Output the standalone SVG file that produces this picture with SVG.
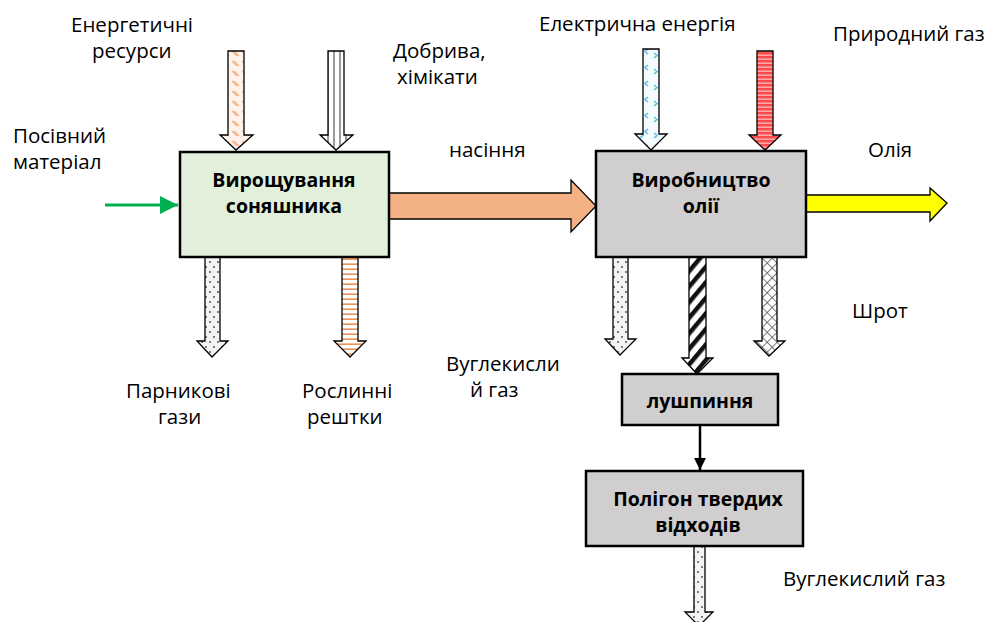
<svg xmlns="http://www.w3.org/2000/svg" width="988" height="622" viewBox="0 0 988 622">
<style>
.t{font-family:"Open Sans","Noto Sans",sans-serif;font-size:20.5px;fill:#000}
.b{font-family:"Open Sans","Noto Sans",sans-serif;font-size:19.5px;font-weight:bold;fill:#000;text-anchor:middle}
.box{stroke:#000;stroke-width:2.5}
.ar{stroke:#000;stroke-width:1.3;stroke-linejoin:miter}
</style>
<defs>
<pattern id="pEnergy" width="10" height="10" patternUnits="userSpaceOnUse">
<rect width="10" height="10" fill="#fdf3ec"/>
<path d="M2 1 L7 6 M4 1 L9 6" stroke="#f4b183" stroke-width="1.2"/>
</pattern>
<pattern id="pFert" width="6" height="6" patternUnits="userSpaceOnUse">
<rect width="6" height="6" fill="#fff"/>
<rect x="3" width="2" height="6" fill="#9a9a9a"/>
</pattern>
<pattern id="pElec" width="14" height="16" patternUnits="userSpaceOnUse">
<rect width="14" height="16" fill="#f6fbfd"/>
<path d="M4 1 L1 3.5 L4 6 M10 5 L13 7.5 L10 10" stroke="#5bc4e0" stroke-width="1.6" fill="none"/>
</pattern>
<pattern id="pGas" width="4" height="4" patternUnits="userSpaceOnUse">
<rect width="4" height="4" fill="#ff4b4b"/>
<rect y="2.6" width="4" height="1.1" fill="#ffd0d0"/>
</pattern>
<pattern id="pDots" width="8" height="10" patternUnits="userSpaceOnUse">
<rect width="8" height="10" fill="#f4f4f4"/>
<circle cx="2" cy="2" r="0.9" fill="#444"/>
<circle cx="6" cy="7" r="0.9" fill="#444"/>
</pattern>
<pattern id="pRes" width="5" height="5" patternUnits="userSpaceOnUse">
<rect width="5" height="5" fill="#fff"/>
<rect y="3.5" width="5" height="1.3" fill="#e07a30"/>
</pattern>
<pattern id="pHusk" width="10" height="10" patternUnits="userSpaceOnUse" patternTransform="rotate(-50)">
<rect width="10" height="10" fill="#fff"/>
<rect width="10" height="4.5" fill="#111"/>
</pattern>
<pattern id="pMeal" width="7" height="7" patternUnits="userSpaceOnUse" patternTransform="rotate(45)">
<rect width="7" height="7" fill="#fff"/>
<path d="M0 0 H7 M0 0 V7" stroke="#555" stroke-width="1.6"/>
</pattern>
<marker id="mBlack" viewBox="0 0 10 10" refX="10" refY="5" markerWidth="5" markerHeight="5" orient="auto" markerUnits="strokeWidth">
<path d="M0 0 L10 5 L0 10 Z" fill="#000"/>
</marker>
<marker id="mGreen" viewBox="0 0 10 10" refX="10" refY="5" markerWidth="6" markerHeight="6" orient="auto" markerUnits="strokeWidth">
<path d="M0 0 L10 5 L0 10 Z" fill="#00b050"/>
</marker>
</defs>

<g id="connectors">
<polygon class="ar" fill="url(#pEnergy)" stroke="#888" points="228,51 244,51 244,135 253,135 236,150 220,135 228,135"/>
<polygon class="ar" fill="url(#pFert)" points="328,51 344,51 344,135 353,135 336,150 320,135 328,135"/>
<polygon class="ar" fill="url(#pElec)" points="643,49 659,49 659,134 667,134 651,150 635,134 643,134"/>
<polygon class="ar" fill="url(#pGas)" stroke="#777" points="757,51 773,51 773,135 781,135 765,150 749,135 757,135"/>
<line x1="105" y1="205" x2="178" y2="205" stroke="#00b050" stroke-width="3" marker-end="url(#mGreen)"/>
<polygon class="ar" fill="#f4b183" points="389,193 571,193 571,180 596,206 571,232 571,219 389,219"/>
<polygon class="ar" fill="#ffff00" points="806,195 930,195 930,188 947,203 930,221 930,212 806,212"/>
<polygon class="ar" fill="url(#pDots)" points="205,257 220,257 220,341 228,341 212,357 197,341 205,341"/>
<polygon class="ar" fill="url(#pRes)" stroke="#e07a30" points="342,257 358,257 358,341 366,341 350,357 334,341 342,341"/>
<polygon class="ar" fill="url(#pDots)" points="613,257 628,257 628,339 636,339 620,355 605,339 613,339"/>
<polygon class="ar" fill="url(#pHusk)" points="689,257 706,257 706,358 713,358 697,374 682,358 689,358"/>
<polygon class="ar" fill="url(#pMeal)" stroke="#555" points="762,257 777,257 777,341 785,341 769,356 754,341 762,341"/>
<line x1="700" y1="425" x2="700" y2="470" stroke="#000" stroke-width="2.5" marker-end="url(#mBlack)"/>
<polygon class="ar" fill="url(#pDots)" points="694,546 705,546 705,612 713,612 699,626 685,612 694,612"/>
</g>

<g id="node-growing">
<rect class="box" x="180" y="152" width="209" height="105" fill="#e2efda"/>
<text class="b" x="284" y="187">Вирощування</text>
<text class="b" x="284" y="213">соняшника</text>
</g>
<g id="node-oil">
<rect class="box" x="596" y="151" width="210" height="106" fill="#d0cece"/>
<text class="b" x="701" y="187">Виробництво</text>
<text class="b" x="701" y="213">олії</text>
</g>
<g id="node-husk">
<rect class="box" x="622" y="374" width="156" height="51" fill="#d0cece"/>
<text class="b" x="700" y="408">лушпиння</text>
</g>
<g id="node-landfill">
<rect class="box" x="586" y="471" width="217" height="75" fill="#d0cece"/>
<text class="b" x="698" y="506">Полігон твердих</text>
<text class="b" x="698" y="532">відходів</text>
</g>

<g id="labels">
<text class="t" x="71" y="32">Енергетичні</text>
<text class="t" x="92" y="58">ресурси</text>
<text class="t" x="393" y="58">Добрива,</text>
<text class="t" x="397" y="84">хімікати</text>
<text class="t" x="13" y="143">Посівний</text>
<text class="t" x="13" y="169">матеріал</text>
<text class="t" x="449" y="157">насіння</text>
<text class="t" x="539" y="31">Електрична енергія</text>
<text class="t" x="833" y="41">Природний газ</text>
<text class="t" x="868" y="157">Олія</text>
<text class="t" x="852" y="318">Шрот</text>
<text class="t" x="446" y="371">Вуглекисли</text>
<text class="t" x="470" y="397">й газ</text>
<text class="t" x="126" y="398">Парникові</text>
<text class="t" x="158" y="424">гази</text>
<text class="t" x="302" y="398">Рослинні</text>
<text class="t" x="307" y="424">рештки</text>
<text class="t" x="783" y="586">Вуглекислий газ</text>
</g>
</svg>
